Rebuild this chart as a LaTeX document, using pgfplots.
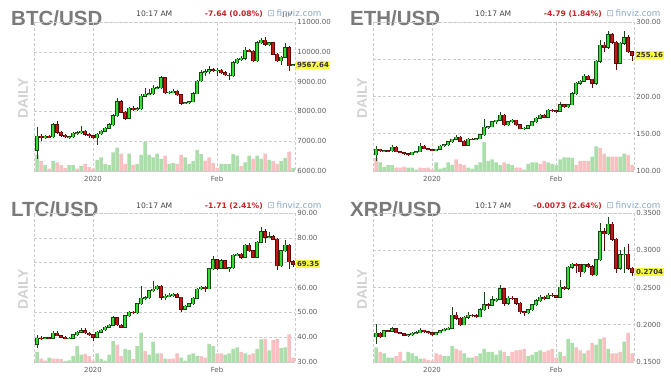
\documentclass[border=0pt]{standalone}
\usepackage{pgfplots}
\pgfplotsset{compat=1.18}
\usepackage{pgfplotstable}
\usepackage{fontspec}
\setmainfont{Liberation Sans}
\newfontfamily\dv{DejaVu Sans}

\definecolor{gridc}{RGB}{204,204,204}
\definecolor{tickc}{RGB}{95,95,95}
\definecolor{titlec}{RGB}{122,122,122}
\definecolor{dailyc}{RGB}{210,210,210}
\definecolor{timec}{RGB}{70,70,70}
\definecolor{chgc}{RGB}{200,35,35}
\definecolor{finc}{RGB}{135,168,196}
\definecolor{upfill}{RGB}{50,222,50}
\definecolor{upedge}{RGB}{25,70,25}
\definecolor{dnfill}{RGB}{195,22,22}
\definecolor{dnedge}{RGB}{95,10,10}
\definecolor{volg}{RGB}{172,222,172}
\definecolor{volr}{RGB}{248,192,192}
\definecolor{pricey}{RGB}{250,250,60}

\pgfplotstableread{
i o h l c v
-14 6690 7470 6410 7160 0.55
-13 7160 7230 7020 7120 -0.34
-12 7120 7200 7080 7160 0.2
-11 7160 7220 7110 7140 -0.08
-10 7140 7600 7120 7560 0.34
-9 7560 7690 7250 7300 -0.3
-8 7300 7340 7150 7200 -0.2
-7 7200 7250 7100 7140 -0.1
-6 7140 7190 7060 7150 0.2
-5 7150 7300 7100 7260 0.2
-4 7260 7330 7200 7280 -0.08
-3 7280 7520 7240 7330 0.18
-2 7330 7370 7180 7230 -0.25
-1 7230 7260 7120 7180 -0.13
0 7180 7220 7080 7120 -0.08
1 7120 7260 6860 7240 0.38
2 7240 7370 7200 7330 0.47
3 7330 7470 7300 7440 0.25
4 7440 7600 7400 7560 0.2
5 7560 7900 7520 7860 0.64
6 7860 8450 7820 8320 0.81
7 8320 8380 7930 7970 -0.6
8 7970 8000 7700 7770 -0.25
9 7770 8160 7740 8110 0.6
10 8110 8180 8020 8060 -0.2
11 8060 8140 8020 8090 0.25
12 8090 8570 8060 8510 0.56
13 8510 8800 8470 8580 1.0
14 8580 8740 8540 8600 0.56
15 8600 8900 8560 8780 0.47
16 8780 8860 8740 8800 0.6
17 8800 9180 8760 9130 0.42
18 9130 9160 8580 8620 -0.53
19 8620 8700 8580 8650 0.25
20 8650 8760 8610 8680 0.27
21 8680 8710 8520 8560 -0.25
22 8560 8590 8230 8270 -0.56
23 8270 8320 8240 8290 0.47
24 8290 8360 8250 8330 0.25
25 8330 8640 8300 8600 0.34
26 8600 9060 8570 9020 0.73
27 9020 9400 8980 9300 0.58
28 9300 9420 9200 9330 -0.36
29 9330 9520 9250 9400 -0.47
30 9400 9450 9320 9370 -0.27
31 9370 9460 9200 9380 -0.1
32 9380 9420 9260 9300 0.25
33 9300 9340 9180 9220 0.25
34 9220 9280 9050 9190 0.25
35 9190 9680 9150 9630 0.58
36 9630 9800 9580 9750 0.53
37 9750 9850 9700 9780 -0.17
38 9780 10150 9740 10060 0.3
39 10060 10100 9980 10020 0.53
40 10020 10060 9650 9690 -0.42
41 9690 10350 9660 10300 0.53
42 10300 10470 10250 10380 0.42
43 10380 10480 10200 10250 -0.6
44 10250 10330 10180 10300 0.38
45 10300 10340 9880 9910 -0.34
46 9910 9960 9650 9700 -0.25
47 9700 9860 9560 9820 0.34
48 9820 10300 9790 10130 0.45
49 10130 10200 9350 9540 -0.67
50 9540 9600 9510 9568 0.1
}\btc

\pgfplotstableread{
i o h l c v
-14 121.5 133 114 129 -0.45
-13 129 130 125 127 0.3
-12 127 128.5 125.5 127.5 0.15
-11 127.5 128.5 126 127 0.2
-10 127 135 126 132 0.2
-9 132 134 125 126 -0.12
-8 126 127 123.5 124.5 -0.12
-7 124.5 125.5 122 123 -0.15
-6 123 124 120.5 122 0.12
-5 122 126 121 125 0.12
-4 125 127 124 126 0.05
-3 126 137 125.5 133 -0.12
-2 133 134.5 129 130 -0.1
-1 130 131 128 128.5 -0.12
0 128.5 130 126.5 127.5 -0.06
1 127.5 130 126.5 129 0.3
2 129 134.5 128 133.5 0.08
3 133.5 136 132.5 135 0.12
4 135 140 134 139 0.3
5 139 143.5 138 142.5 0.2
6 142.5 148 141 145.5 -0.4
7 145.5 146.5 139 140 -0.25
8 140 141 133.5 134.5 -0.2
9 134.5 144 134 143 0.12
10 143 144.5 141.5 142.5 0.08
11 142.5 144.5 141.5 143.5 0.2
12 143.5 149.5 142.5 148.5 0.3
13 148.5 170 147.5 159 1.0
14 159 161 157 159.5 0.35
15 159.5 167.5 158.5 166 0.4
16 166 169 163.5 168 0.3
17 168 179 166.5 174.8 0.2
18 174.8 176 161 162 -0.3
19 162 167.5 160 166 0.25
20 166 169.5 164 168 0.2
21 168 169 161 162 -0.12
22 162 163 156 157 -0.12
23 157 158.5 155.5 157.5 0.05
24 157.5 162 156.5 161 0.25
25 161 167 160 166 0.3
26 166 172 165 171 0.3
27 171 176 170 174.8 -0.25
28 174.8 176.5 170.5 172 -0.35
29 172 183 171 181.5 0.3
30 181.5 183 179.5 181 0.25
31 181 182.5 178.5 180 0.2
32 180 193 179 189 0.4
33 189 190.5 185 186 0.47
34 186 190.5 184 189 0.47
35 189 205.5 188 204 0.45
36 204 219 202 217.6 -0.2
37 217.6 222.5 215.5 220.7 -0.35
38 220.7 230 219 227.5 -0.35
39 227.5 229 221.5 223 -0.35
40 223 224 212 217.6 0.5
41 217.6 249 216 247 0.85
42 247 276 245 269 -0.8
43 269 273 260 266 -0.6
44 266 288 264 283 0.5
45 283 285 271 273 -0.5
46 273 275 235.6 244.6 -0.5
47 244.6 273 243 271.6 0.5
48 271.6 288 269 279 0.6
49 279 283 258 260 -0.55
50 260 261 248 255.16 -0.2
}\eth

\pgfplotstableread{
i o h l c v
-14 37.2 41 35.5 39.6 0.35
-13 39.6 40.4 39 39.5 -0.12
-12 39.5 40 39.1 39.7 -0.05
-11 39.7 40.2 39.3 39.6 0.15
-10 39.6 42.5 39.4 41.7 -0.12
-9 41.7 42.4 40.3 40.6 -0.12
-8 40.6 41 39.7 40 -0.1
-7 40 40.4 39.2 39.5 0.03
-6 39.5 40 39.1 39.6 0.06
-5 39.6 41.2 39.4 40.9 0.2
-4 40.9 42.3 40.6 42 0.55
-3 42 43.5 41.7 42.6 0.25
-2 42.6 43.5 41.4 41.7 -0.28
-1 41.7 42 40.6 40.9 -0.2
0 40.9 41.2 38.3 40 -0.05
1 40 42.3 39.8 42 0.3
2 42 43.3 41.7 42.9 0.1
3 42.9 44.3 42.6 44 0.05
4 44 45.2 43.7 44.8 0.25
5 44.8 48.5 44.5 47.8 0.72
6 47.8 48.3 44.6 44.9 -0.6
7 44.9 45.4 43.6 44 -0.2
8 44 49 43.8 48.7 0.45
9 48.7 50.6 48.3 50.1 0.42
10 50.1 50.5 49.3 49.8 -0.1
11 49.8 53.8 49.5 53.4 0.55
12 53.4 60.5 53 55.6 1.0
13 55.6 56.5 55 55.8 -0.38
14 55.8 59 55.4 58.7 0.25
15 58.7 62.8 58.2 59.4 0.7
16 59.4 61.2 59 60.6 0.3
17 60.6 61 55 56 -0.3
18 56 57.5 55 56.4 0.12
19 56.4 57.6 56 56.8 -0.1
20 56.8 57.8 56.3 57.2 -0.12
21 57.2 57.6 55.8 56 -0.3
22 56 56.3 50.3 51.3 0.15
23 51.3 52.8 51 52.4 0.05
24 52.4 53.8 52 53.4 0.25
25 53.4 56 53.1 55.6 0.3
26 55.6 60 55.3 59.4 0.2
27 59.4 60.6 59 60.2 -0.2
28 60.2 60.6 58 59.5 -0.15
29 59.5 68 59.2 67.5 0.62
30 67.5 72.5 67 71.2 0.55
31 71.2 71.6 67.2 67.7 -0.3
32 67.7 71.4 67.3 70.8 -0.3
33 70.8 71.2 67.3 67.7 0.25
34 67.7 68.4 66.2 67.9 0.3
35 67.9 73.6 67.5 73.1 0.45
36 73.1 74 72.6 73.4 0.5
37 73.4 73.8 71.5 72.1 -0.35
38 72.1 77.6 71.8 77.1 0.3
39 77.1 77.8 74.4 74.8 -0.25
40 74.8 75.2 71.7 72.1 -0.3
41 72.1 78.6 71.8 78.2 0.45
42 78.2 84.2 77.8 82.5 0.78
43 82.5 83.6 78 80.2 -0.8
44 80.2 82.5 79.8 80.4 0.4
45 80.4 81 79 79.5 -0.75
46 79.5 80 67 68.8 -0.8
47 68.8 75.3 68.4 74.8 0.48
48 74.8 79.2 74.4 77.1 0.5
49 77.1 77.6 67.5 70.4 -0.95
50 70.4 71 68.3 69.35 -0.15
}\ltc

\pgfplotstableread{
i o h l c v
-14 .1835 .2010 .1735 .1888 0.5
-13 .1888 .1900 .1820 .1840 -0.35
-12 .1840 .1930 .1830 .1920 0.3
-11 .1920 .1935 .1900 .1915 0.15
-10 .1915 .1975 .1905 .1945 0.15
-9 .1945 .1960 .1885 .1895 -0.2
-8 .1895 .1905 .1870 .1880 -0.35
-7 .1880 .1890 .1850 .1860 0.05
-6 .1860 .1880 .1840 .1865 0.35
-5 .1865 .1905 .1855 .1890 0.3
-4 .1890 .1910 .1875 .1895 0.2
-3 .1895 .1960 .1885 .1925 0.12
-2 .1925 .1935 .1895 .1905 -0.12
-1 .1905 .1915 .1880 .1895 -0.07
0 .1895 .1905 .1850 .1870 -0.05
1 .1870 .1905 .1860 .1895 -0.3
2 .1895 .1930 .1885 .1920 -0.25
3 .1920 .1950 .1910 .1940 0.2
4 .1940 .1965 .1930 .1955 0.2
5 .1955 .2235 .1950 .2130 0.55
6 .2130 .2175 .2070 .2088 -0.45
7 .2088 .2100 .1985 .2000 -0.4
8 .2000 .2120 .1995 .2100 0.3
9 .2100 .2165 .2080 .2130 0.15
10 .2130 .2150 .2100 .2120 0.15
11 .2120 .2140 .2090 .2110 -0.2
12 .2110 .2225 .2100 .2200 0.3
13 .2200 .2445 .2190 .2266 0.45
14 .2266 .2290 .2210 .2260 0.35
15 .2260 .2380 .2250 .2333 0.35
16 .2333 .2360 .2310 .2340 0.25
17 .2340 .2530 .2330 .2485 0.4
18 .2485 .2500 .2250 .2290 -0.35
19 .2290 .2380 .2270 .2356 0.2
20 .2356 .2380 .2330 .2350 -0.35
21 .2350 .2365 .2270 .2290 -0.4
22 .2290 .2300 .2150 .2177 -0.42
23 .2177 .2190 .2120 .2160 -0.45
24 .2160 .2210 .2150 .2200 0.2
25 .2200 .2280 .2190 .2266 0.25
26 .2266 .2340 .2255 .2325 0.35
27 .2325 .2400 .2310 .2370 0.4
28 .2370 .2390 .2330 .2355 -0.35
29 .2355 .2430 .2345 .2400 -0.4
30 .2400 .2420 .2370 .2390 -0.45
31 .2390 .2405 .2360 .2370 -0.15
32 .2370 .2600 .2360 .2503 0.35
33 .2503 .2520 .2460 .2490 -0.2
34 .2490 .2790 .2460 .2771 0.8
35 .2771 .2830 .2750 .2812 0.65
36 .2812 .2830 .2700 .2805 -0.5
37 .2805 .2820 .2640 .2713 -0.4
38 .2713 .2820 .2700 .2805 0.3
39 .2805 .2830 .2760 .2780 -0.4
40 .2780 .2800 .2650 .2670 -0.65
41 .2670 .2880 .2660 .2870 0.6
42 .2870 .3370 .2860 .3250 0.8
43 .3250 .3300 .2990 .3218 -0.85
44 .3218 .3450 .3200 .3353 0.45
45 .3353 .3380 .3120 .3147 -0.3
46 .3147 .3170 .2700 .2758 -0.3
47 .2758 .3010 .2740 .2937 -0.35
48 .2937 .3040 .2700 .2950 0.7
49 .2950 .3080 .2740 .2758 -1.0
50 .2758 .2770 .2660 .2704 -0.3
}\xrp

\pgfplotsset{
  fin/.style={
    scale only axis, width=261pt, height=149pt, anchor=south west,
    xmin=-14.75, xmax=50.5,
    xtick={0,31}, xticklabels={2020,Feb},
    xmajorgrids, ymajorgrids,
    grid style={draw=gridc, line width=0.6pt, dash pattern=on 3pt off 2pt},
    axis line style={draw=gridc, line width=0.6pt, dash pattern=on 3pt off 2pt},
    major tick length=0pt,
    yticklabel pos=right,
    tick label style={font={\dv\fontsize{7}{8}\selectfont}, text=tickc},
    yticklabel style={inner sep=0.8pt, xshift=1.4pt},
    xticklabel style={yshift=-2pt},
    clip mode=individual,
  },
  cdl/.style={only marks, mark=none, mark size=0pt, mark options={draw=none, fill=none}},
}
\tikzset{
  pricebox/.style={fill=pricey, anchor=west, inner xsep=1.2pt, inner ysep=1.3pt,
    font={\dv\bfseries\fontsize{7}{8}\selectfont}, text=black!80, xshift=0.6pt},
}

% #1 table, #2 outline delta, #3 ymin, #4 volume unit
\newcommand{\drawcandles}[4]{%
  \addplot[ybar, bar width=3.5pt, bar shift=0pt, fill=volg, draw=none,
    restrict expr to domain={\thisrow{v}}{0:10}]
    table[x=i, y expr={#3+\thisrow{v}*#4}] {#1};
  \addplot[ybar, bar width=3.5pt, bar shift=0pt, fill=volr, draw=none,
    restrict expr to domain={\thisrow{v}}{-10:0}]
    table[x=i, y expr={#3-\thisrow{v}*#4}] {#1};
  % wicks
  \addplot[cdl, restrict expr to domain={\thisrow{c}-\thisrow{o}}{0:100000},
    error bars/.cd, y dir=both, y explicit, error mark=none,
    error bar style={line width=0.6pt, line cap=butt, solid, draw=upedge}]
    table[x=i, y expr={(\thisrow{h}+\thisrow{l})/2}, y error expr={(\thisrow{h}-\thisrow{l})/2}] {#1};
  \addplot[cdl, restrict expr to domain={\thisrow{c}-\thisrow{o}}{-100000:0},
    error bars/.cd, y dir=both, y explicit, error mark=none,
    error bar style={line width=0.6pt, line cap=butt, solid, draw=dnedge}]
    table[x=i, y expr={(\thisrow{h}+\thisrow{l})/2}, y error expr={(\thisrow{h}-\thisrow{l})/2}] {#1};
  % bodies: outline
  \addplot[cdl, restrict expr to domain={\thisrow{c}-\thisrow{o}}{0:100000},
    error bars/.cd, y dir=both, y explicit, error mark=none,
    error bar style={line width=3.4pt, line cap=butt, solid, draw=upedge}]
    table[x=i, y expr={(\thisrow{o}+\thisrow{c})/2}, y error expr={abs(\thisrow{c}-\thisrow{o})/2+#2}] {#1};
  \addplot[cdl, restrict expr to domain={\thisrow{c}-\thisrow{o}}{-100000:0},
    error bars/.cd, y dir=both, y explicit, error mark=none,
    error bar style={line width=3.4pt, line cap=butt, solid, draw=dnedge}]
    table[x=i, y expr={(\thisrow{o}+\thisrow{c})/2}, y error expr={abs(\thisrow{c}-\thisrow{o})/2+#2}] {#1};
  % bodies: fill
  \addplot[cdl, restrict expr to domain={\thisrow{c}-\thisrow{o}}{0:100000},
    error bars/.cd, y dir=both, y explicit, error mark=none,
    error bar style={line width=2.5pt, line cap=butt, solid, draw=upfill}]
    table[x=i, y expr={(\thisrow{o}+\thisrow{c})/2}, y error expr={abs(\thisrow{c}-\thisrow{o})/2}] {#1};
  \addplot[cdl, restrict expr to domain={\thisrow{c}-\thisrow{o}}{-100000:0},
    error bars/.cd, y dir=both, y explicit, error mark=none,
    error bar style={line width=2.5pt, line cap=butt, solid, draw=dnfill}]
    table[x=i, y expr={(\thisrow{o}+\thisrow{c})/2}, y error expr={abs(\thisrow{c}-\thisrow{o})/2}] {#1};
}

\newcommand{\paneltext}[4]{%
  \begin{scope}[shift={(#1,#2)}]
    \node[anchor=base west, inner sep=0pt, font={\bfseries\fontsize{20.5}{24}\selectfont}, text=titlec] at (11pt,357.3pt) {#3};
    \node[anchor=base west, inner sep=0pt, font={\dv\fontsize{7.6}{9}\selectfont}, text=timec] at (136pt,366pt) {10:17 AM};
    \node[anchor=base east, inner sep=0pt, font={\dv\bfseries\fontsize{7.6}{9}\selectfont}, text=chgc] at (263pt,366pt) {#4};
    \node[anchor=base west, inner sep=0pt, font={\dv\fontsize{8.8}{10}\selectfont}, text=finc] at (267.5pt,366pt) {⊡\,finviz.com};
    \node[rotate=90, inner sep=0pt, font={\bfseries\fontsize{14}{16}\selectfont}, text=dailyc] at (23pt,284.5pt) {DAILY};
  \end{scope}}

\begin{document}
\begin{tikzpicture}
\useasboundingbox (0pt,0pt) rectangle (671pt,383pt);
\fill[white] (0pt,0pt) rectangle (671pt,383pt);

\paneltext{0pt}{0pt}{BTC/USD}{-7.64 (0.08\%)}
\paneltext{339pt}{0pt}{ETH/USD}{-4.79 (1.84\%)}
\paneltext{0pt}{-191pt}{LTC/USD}{-1.71 (2.41\%)}
\paneltext{339pt}{-191pt}{XRP/USD}{-0.0073 (2.64\%)}

% BTC
\begin{scope}
\clip (0pt,192pt) rectangle (335.5pt,383pt);
\begin{axis}[fin, at={(34pt,212pt)}, ymin=6000, ymax=11000,
  ytick={6000,7000,8000,9000,10000,11000},
  yticklabels={6000.00,7000.00,8000.00,9000.00,10000.00,11000.00}]
\drawcandles{\btc}{15}{6000}{973}
\node[pricebox] at (axis cs:50.5,9567.64) {9567.64};
\end{axis}
\end{scope}

% ETH
\begin{axis}[fin, at={(373pt,212pt)}, ymin=100, ymax=300,
  ytick={100,150,200,250,300},
  yticklabels={100.00,150.00,200.00,,300.00}]
\drawcandles{\eth}{0.6}{100}{38.9}
\node[pricebox] at (axis cs:50.5,255.16) {255.16};
\end{axis}

% LTC
\begin{scope}
\clip (0pt,0pt) rectangle (335.5pt,192pt);
\begin{axis}[fin, at={(34pt,21pt)}, ymin=30, ymax=90,
  ytick={30,40,50,60,70,80,90},
  yticklabels={30.00,40.00,50.00,60.00,,80.00,90.00}]
\drawcandles{\ltc}{0.18}{30}{11.7}
\node[pricebox] at (axis cs:50.5,69.35) {69.35};
\end{axis}
\end{scope}

% XRP
\begin{axis}[fin, at={(373pt,21pt)}, ymin=0.15, ymax=0.35,
  ytick={0.15,0.2,0.25,0.3,0.35},
  yticklabels={0.1500,0.2000,0.2500,0.3000,0.3500}]
\drawcandles{\xrp}{0.0006}{0.15}{0.039}
\node[pricebox] at (axis cs:50.5,0.2704) {0.2704};
\end{axis}
\end{tikzpicture}
\end{document}
